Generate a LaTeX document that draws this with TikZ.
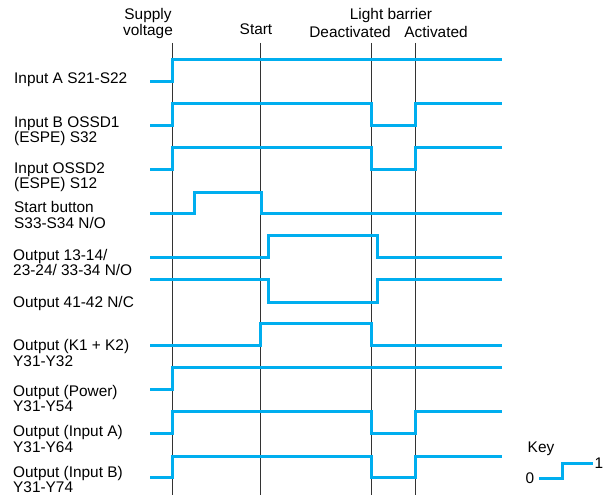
\documentclass[tikz,border=0pt]{standalone}
\usepackage{fontspec}
\setmainfont{Liberation Sans}
\definecolor{sigblue}{RGB}{0,174,239}

\tikzset{
  signal/.style={draw=sigblue, line width=3pt},
  eventline/.style={draw=black!80, line width=0.9pt},
  rowlabel/.style={anchor=west, align=left, inner sep=0pt, font=\fontsize{15.4}{15.2}\selectfont},
  toplabel/.style={align=center, inner sep=0pt, font=\fontsize{15.4}{15.2}\selectfont}
}

\begin{document}
\begin{tikzpicture}[x=1pt, y=-1pt]
			\useasboundingbox (0,0) rectangle (609,495);

			% events along the time axis
			\node[toplabel] (supplytxt) at (148,23.5) {Supply\\voltage};
			\node[toplabel] (starttxt) at (256,29) {Start};
			\node[toplabel] (barriertxt) at (391,16) {Light barrier};
			\node[toplabel] (deacttxt) at (350,32) {Deactivated};
			\node[toplabel] (acttxt) at (436,32) {Activated};

			\foreach \ev/\x in {supply/172, start/260, deact/371, act/415}{
				\coordinate (\ev top) at (\x,43);
				\coordinate (\ev bot) at (\x,495);
				\draw[eventline] (\ev top) -- (\ev bot);
			}

			% row labels
			\node[rowlabel] (inA) at (14,80) {Input A S21-S22};
			\node[rowlabel] (inB) at (14,131.5) {Input B OSSD1\\(ESPE) S32};
			\node[rowlabel] (ossd) at (14,177) {Input OSSD2\\(ESPE) S12};
			\node[rowlabel] (startbtn) at (14,215) {Start button\\S33-S34 N/O};
			\node[rowlabel] (outno) at (13,262.5) {Output 13-14/\\23-24/ 33-34 N/O};
			\node[rowlabel] (outnc) at (13,304) {Output 41-42 N/C};
			\node[rowlabel] (outk) at (13,353) {Output (K1 + K2)\\Y31-Y32};
			\node[rowlabel] (outpow) at (13,398.5) {Output (Power)\\Y31-Y54};
			\node[rowlabel] (outA) at (13,439) {Output (Input A)\\Y31-Y64};
			\node[rowlabel] (outB) at (13,479.5) {Output (Input B)\\Y31-Y74};

			% signal traces
			\draw[signal] (150,81) -- (172,81) -- (172,59) -- (502,59);
			\draw[signal] (150,125) -- (172,125) -- (172,103) -- (371,103) -- (371,125) -- (415,125) -- (415,103) -- (502,103);
			\draw[signal] (150,169) -- (172,169) -- (172,147) -- (371,147) -- (371,169) -- (415,169) -- (415,147) -- (502,147);
			\draw[signal] (150,213) -- (194,213) -- (194,192) -- (261,192) -- (261,213) -- (502,213);
			\draw[signal] (150,257) -- (268,257) -- (268,235) -- (377,235) -- (377,257) -- (502,257);
			\draw[signal] (150,279) -- (268,279) -- (268,302) -- (377,302) -- (377,279) -- (502,279);
			\draw[signal] (150,345) -- (260,345) -- (260,323) -- (371,323) -- (371,345) -- (502,345);
			\draw[signal] (150,389) -- (172,389) -- (172,367) -- (502,367);
			\draw[signal] (150,433) -- (172,433) -- (172,411) -- (371,411) -- (371,433) -- (415,433) -- (415,411) -- (502,411);
			\draw[signal] (150,477) -- (172,477) -- (172,456) -- (371,456) -- (371,477) -- (415,477) -- (415,456) -- (502,456);

			% key
			\node[toplabel] (keytxt) at (541,449) {Key};
			\node[toplabel] (zero) at (530,478) {0};
			\node[toplabel] (one) at (599,463) {1};
			\draw[signal] (zero.east) ++(5,0) coordinate (keylo) -- (562,478) -- (562,463) -- (593,463);
\end{tikzpicture}
\end{document}
